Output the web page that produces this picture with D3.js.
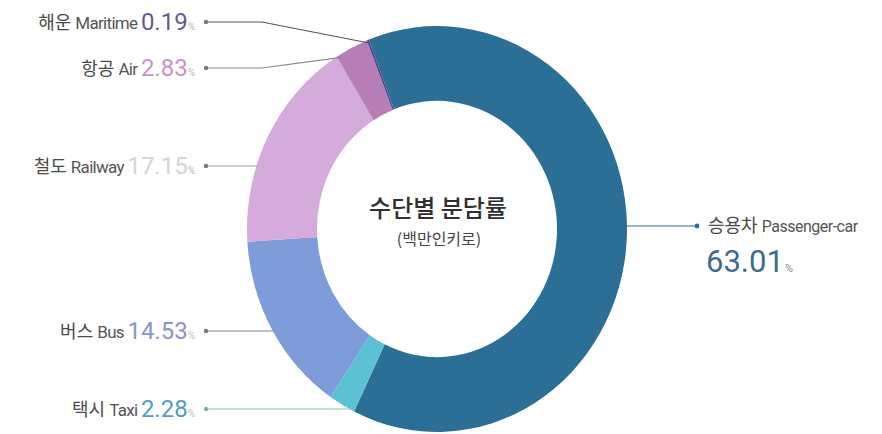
<!DOCTYPE html>
<html><head><meta charset="utf-8">
<script src="https://cdn.jsdelivr.net/npm/d3@7"></script>
<style>
html,body{margin:0;padding:0;background:#fff;}
svg{display:block;font-family:"Noto Sans CJK KR","Noto Sans",sans-serif;}
</style></head>
<body>
<svg id="chart" width="882" height="434"></svg>
<script>
// ---- data ----
const categoriesKo = ["승용차", "택시", "버스", "철도", "항공", "해운"];
const categoriesEn = ["Passenger-car", "Taxi", "Bus", "Railway", "Air", "Maritime"];
const shares = [63.01, 2.28, 14.53, 17.15, 2.83, 0.19];
const valueLabels = ["63.01", "2.28", "14.53", "17.15", "2.83", "0.19"];
const centerTitle = "수단별 분담률";
const centerSub = "(백만인키로)";

// ---- style / layout ----
const sliceColors = ["#2b6f96", "#5cc1d3", "#7d9cd9", "#d5abdc", "#b67db7", "#4b4b8b"];
const valueColors = ["#3e6c8c", "#4e9ec0", "#8b95cc", "#dccfdc", "#cb92ca", "#5d5b9b"];
const lineColors  = ["#2b6f96", "#7cc8c0", "#888", "#999", "#888", "#555"];
const labelY = [null, 409, 331, 166, 68, 22];

const cx = 437, cy = 229, rOuter = 190, rInner = 120, sy = 1.068;
const startDeg = -21;

const svg = d3.select("#chart");
const pie = d3.pie().sort(null).value(d => d)
  .startAngle(startDeg * Math.PI / 180)
  .endAngle((startDeg + 360) * Math.PI / 180);
const arcs = pie(shares);
const arc = d3.arc().innerRadius(rInner).outerRadius(rOuter);

const g = svg.append("g").attr("transform", `translate(${cx},${cy}) scale(1,${sy})`);
g.selectAll("path").data(arcs).join("path")
  .attr("d", arc)
  .attr("fill", (d, i) => sliceColors[i]);

function outerPt(a, r) {
  return [cx + r * Math.sin(a), cy - r * Math.cos(a) * sy];
}
function edgeXAtY(y, left) {
  const dy = (y - cy) / (rOuter * sy);
  const dx = rOuter * Math.sqrt(Math.max(0, 1 - dy * dy));
  return left ? cx - dx + 1 : cx + dx - 1;
}

const dotX = 206, elbowX = 262;
const lines = svg.append("g");
arcs.forEach((d, i) => {
  if (i === 0) return;
  const y = labelY[i];
  let pts;
  if (i >= 4) {
    const a = (d.startAngle + d.endAngle) / 2;
    const p = outerPt(i === 4 ? d.startAngle + 0.02 : a, rOuter - 3);
    pts = [[dotX, y], [elbowX, y], p];
  } else {
    pts = [[dotX, y], [edgeXAtY(y, true), y]];
  }
  lines.append("path").attr("d", d3.line()(pts))
    .attr("fill", "none").attr("stroke", lineColors[i]).attr("stroke-width", 1.2);
  lines.append("circle").attr("cx", dotX).attr("cy", y).attr("r", 2.2).attr("fill", i === 1 ? "#8aa" : "#777");

  const t = svg.append("text").attr("x", 195).attr("y", y + 7).attr("text-anchor", "end");
  t.append("tspan").text(categoriesKo[i] + " ").attr("font-size", 18).attr("fill", "#4a4a4a");
  t.append("tspan").text(categoriesEn[i] + " ").attr("font-size", 17).attr("fill", "#555")
    .attr("font-family", "Roboto, sans-serif").attr("letter-spacing", -0.7);
  t.append("tspan").text(valueLabels[i]).attr("font-size", 24).attr("fill", valueColors[i])
    .attr("font-family", "Roboto, sans-serif").attr("dy", 1);
  t.append("tspan").text("%").attr("font-size", 10).attr("fill", "#bbb")
    .attr("font-family", "Roboto, sans-serif");
});

// passenger car (right)
{
  const y = 226;
  const x0 = edgeXAtY(y, false);
  lines.append("path").attr("d", d3.line()([[x0, y], [697, y]]))
    .attr("stroke", lineColors[0]).attr("stroke-width", 1.2);
  lines.append("circle").attr("cx", 697).attr("cy", y).attr("r", 2.4).attr("fill", lineColors[0]);
  const t = svg.append("text").attr("x", 708).attr("y", y + 6);
  t.append("tspan").text(categoriesKo[0] + " ").attr("font-size", 18).attr("fill", "#4a4a4a");
  t.append("tspan").text(categoriesEn[0]).attr("font-size", 16).attr("fill", "#555")
    .attr("font-family", "Roboto, sans-serif").attr("letter-spacing", -0.5);
  const v = svg.append("text").attr("x", 706).attr("y", y + 46);
  v.append("tspan").text(valueLabels[0]).attr("font-size", 31).attr("fill", valueColors[0])
    .attr("font-family", "Roboto, sans-serif");
  v.append("tspan").text("%").attr("font-size", 11).attr("fill", "#888")
    .attr("font-family", "Roboto, sans-serif").attr("dx", 1);
}

// center text
svg.append("text").attr("x", cx + 1).attr("y", 217).attr("text-anchor", "middle")
  .attr("font-size", 24).attr("font-weight", 500).attr("fill", "#2f2f2f").text(centerTitle);
svg.append("text").attr("x", cx + 2).attr("y", 245).attr("text-anchor", "middle")
  .attr("font-size", 16).attr("fill", "#444").text(centerSub);
</script>
</body></html>
